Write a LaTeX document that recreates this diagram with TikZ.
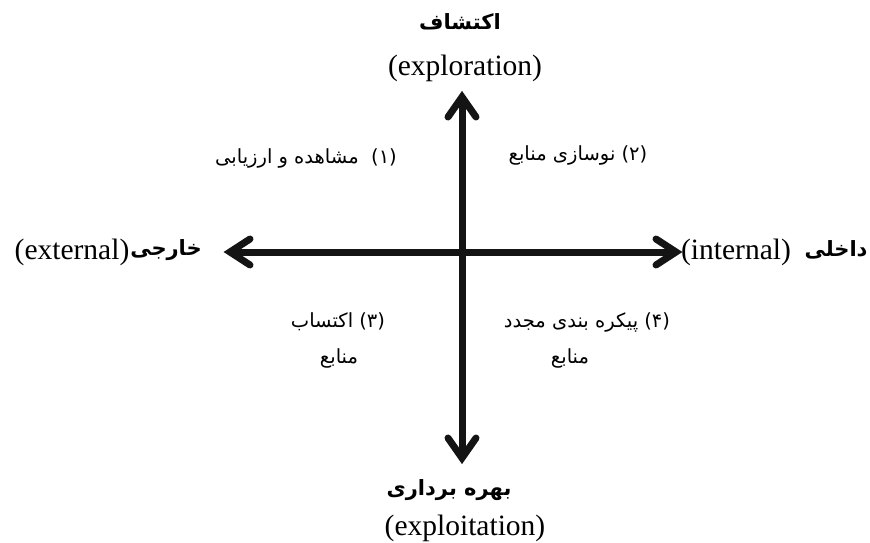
\documentclass[tikz,border=0pt]{standalone}
\usepackage{fontspec}
\setmainfont{Liberation Serif}
\newfontfamily\fa[Script=Arabic]{DejaVu Sans}
\TeXXeTstate=1
\begin{document}
\begin{tikzpicture}[x=1pt,y=-1pt,
  en/.style={font=\fontsize{29.5}{32}\selectfont, inner sep=0pt},
  fab/.style={font=\fa\bfseries\fontsize{21}{24}\selectfont, inner sep=0pt},
  far/.style={font=\fa\fontsize{19.5}{23}\selectfont, inner sep=0pt},
  shaft/.style={line width=7pt, draw=black!92},
  headsty/.style={line width=7pt, draw=black!92, line join=miter, line cap=round}]
\useasboundingbox (0,0) rectangle (870,543);
% axis end points (arrow-head vertices)
\coordinate (L) at (230,252);
\coordinate (R) at (676,252);
\coordinate (T) at (462,97);
\coordinate (B) at (462,458);
\draw[shaft] (L) -- (R);
\draw[shaft] (T) -- (B);
\draw[headsty] (L) ++(20,-13) -- (L) -- ++(20,13);
\draw[headsty] (R) ++(-20,-13) -- (R) -- ++(-20,13);
\draw[headsty] (T) ++(-14,20) -- (T) -- ++(14,20);
\draw[headsty] (B) ++(-14,-20) -- (B) -- ++(14,-20);
% labels
\node[fab] (expfa) at (460,22) {\beginR اکتشاف\endR};
\node[en] (expen) at (465,68) {(exploration)};
\node[far] (q1) at (306,158) {\beginR (۱)\ \ مشاهده و ارزیابی\endR};
\node[far] (q2) at (578,155) {\beginR (۲) نوسازی منابع\endR};
\node[en] (ext) at (72,252) {(external)};
\node[fab] (extfa) at (166,250) {\beginR خارجی\endR};
\node[en] (int) at (736,252) {(internal)};
\node[fab] (intfa) at (836,250) {\beginR داخلی\endR};
\node[far] (q3) at (338,322) {\beginR (۳) اکتساب\endR};
\node[far] (q3b) at (339,358) {\beginR منابع\endR};
\node[far] (q4) at (587,322) {\beginR (۴) پیکره بندی مجدد\endR};
\node[far] (q4b) at (570,358) {\beginR منابع\endR};
\node[fab] (explfa) at (449,490) {\beginR بهره برداری\endR};
\node[en] (explen) at (465,528) {(exploitation)};
\end{tikzpicture}
\end{document}
